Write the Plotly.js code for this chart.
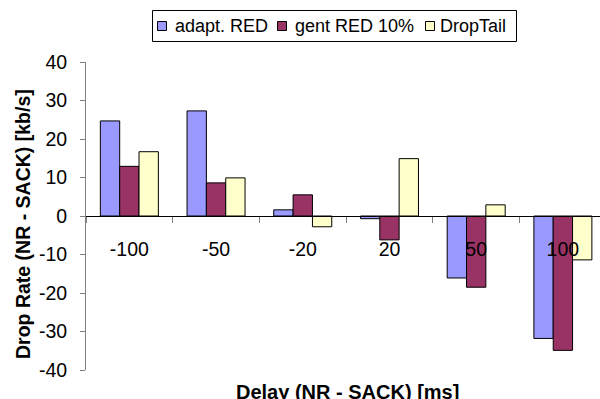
<!DOCTYPE html>
<html>
<head>
<meta charset="utf-8">
<script src="https://cdn.plot.ly/plotly-3.0.1.min.js"></script>
<style>html,body{margin:0;padding:0;background:#fff;}#chart{width:600px;height:399px;}</style>
</head>
<body>
<div id="chart"></div>
<script>
const categories = ["-100", "-50", "-20", "20", "50", "100"];
const adaptRED = [24.7, 27.3, 1.6, -0.7, -16.1, -31.8];
const gentRED10 = [12.9, 8.6, 5.5, -6.2, -18.5, -34.9];
const dropTail = [16.7, 9.9, -2.8, 14.9, 2.9, -11.4];
const seriesNames = ["adapt. RED", "gent RED 10%", "DropTail"];
const yTickVals = [-40, -30, -20, -10, 0, 10, 20, 30, 40];

const FONT = "Liberation Sans, Arial, sans-serif";
const colors = ["#9999FF", "#993366", "#FFFFCC"];
const seriesData = [adaptRED, gentRED10, dropTail];

// plot-area geometry in pixels (used to place the hand-drawn legend)
const W = 600, H = 399;
const M = {l: 86, r: 0, t: 62, b: 29};
const plotW = W - M.l - M.r, plotH = H - M.t - M.b;
const px = x => (x - M.l) / plotW;
const py = y => (H - M.b - y) / plotH;

const traces = seriesData.map((vals, i) => ({
  type: "bar",
  x: categories,
  y: vals,
  name: seriesNames[i],
  marker: {color: colors[i], line: {color: "#000000", width: 1}},
  hoverinfo: "none",
  showlegend: false
}));

// custom legend (boxed, horizontal) to match the reference spacing
const legendIconX = [157.5, 277.5, 425.5];
const legendTextX = [173, 293, 438];
const legendY = 26;
const shapes = [
  {type: "rect", xref: "paper", yref: "paper",
   x0: px(152.5), x1: px(516.5), y0: py(41.5), y1: py(10.5),
   line: {color: "#000000", width: 1}, fillcolor: "#ffffff", layer: "above"}
];
const annotations = [];
seriesNames.forEach((name, i) => {
  shapes.push({type: "rect", xref: "paper", yref: "paper",
    x0: px(legendIconX[i]), x1: px(legendIconX[i] + 9),
    y0: py(legendY + 4.5), y1: py(legendY - 4.5),
    line: {color: "#000000", width: 1}, fillcolor: colors[i], layer: "above"});
  annotations.push({text: name, xref: "paper", yref: "paper",
    x: px(legendTextX[i]), y: py(legendY), xanchor: "left", yanchor: "middle",
    showarrow: false, font: {family: FONT, size: 18, color: "#000000"}});
});

annotations.push(
  {
    text: "<b>Drop Rate (NR - SACK) [kb/s]</b>",
    xref: "paper", yref: "paper",
    x: px(23), y: py(224),
    xanchor: "center", yanchor: "middle",
    textangle: -90,
    showarrow: false,
    font: {family: FONT, size: 19.5, color: "#000000"}
  },
  {
    text: "<b>Delay (NR - SACK) [ms]</b>",
    xref: "paper", yref: "paper",
    x: px(347.5), y: py(392),
    xanchor: "center", yanchor: "middle",
    showarrow: false,
    font: {family: FONT, size: 20, color: "#000000"}
  }
);

const layout = {
  width: W,
  height: H,
  margin: {l: M.l, r: M.r, t: M.t, b: M.b, pad: 0},
  paper_bgcolor: "#ffffff",
  plot_bgcolor: "#ffffff",
  barmode: "group",
  bargap: 0.331,
  bargroupgap: 0,
  showlegend: false,
  font: {family: FONT, color: "#000000"},
  xaxis: {
    type: "category",
    range: [-0.5, 5.428],
    anchor: "free",
    position: 0.5,
    showline: true,
    linecolor: "#000000",
    linewidth: 1,
    ticks: "outside",
    tickson: "boundaries",
    ticklen: 6,
    tickcolor: "#808080",
    ticklabelstandoff: 16,
    tickfont: {family: FONT, size: 19.5, color: "#000000"},
    showgrid: false,
    zeroline: false,
    fixedrange: true
  },
  yaxis: {
    range: [-40, 40],
    tickvals: yTickVals,
    ticktext: yTickVals.map(String),
    showline: true,
    linecolor: "#808080",
    linewidth: 1,
    ticks: "outside",
    ticklen: 5,
    tickcolor: "#808080",
    ticklabelstandoff: 9,
    tickfont: {family: FONT, size: 19.5, color: "#000000"},
    showgrid: false,
    zeroline: false,
    fixedrange: true
  },
  shapes: shapes,
  annotations: annotations
};

Plotly.newPlot("chart", traces, layout, {staticPlot: true, displayModeBar: false});
</script>
</body>
</html>
